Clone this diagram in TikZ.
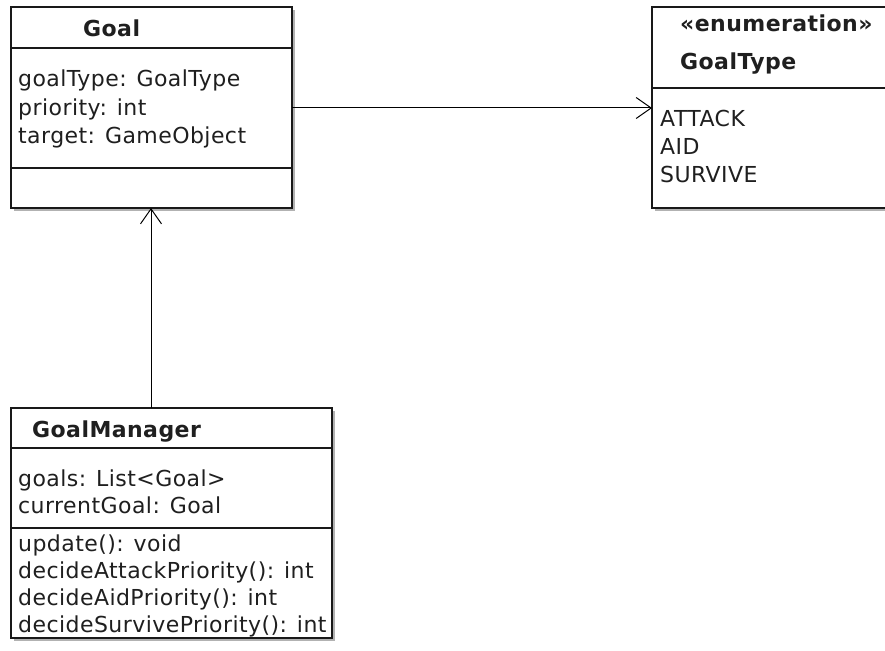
\documentclass[tikz,border=0pt]{standalone}
\usepackage{fontspec}
\setmainfont{DejaVu Sans}[LetterSpace=2]
\usetikzlibrary{arrows.meta, calc, shadows}

\begin{document}
\begin{tikzpicture}[x=1pt, y=-1pt,% styles used in image code
          > = {Straight Barb[length=15pt, width=21pt]},
umlclass/.style = {draw=black!90, line width=1.4pt, fill=white,
                   anchor=north west, inner sep=0pt, outer sep=0pt,
                   drop shadow={shadow xshift=3pt, shadow yshift=-3pt,
                                fill=black!30, opacity=1}},
   title/.style = {anchor=base west, inner sep=0pt,
                   font=\fontsize{22}{24}\selectfont\bfseries},
   entry/.style = {anchor=base west, inner sep=0pt},
  every node/.style = {text=black!88, font=\fontsize{22}{24}\selectfont}
                    ]
	\useasboundingbox (0,0) rectangle (885,650);

	% class frames
	\node[umlclass, minimum width=281pt, minimum height=201pt] (goal) at (11,7) {};
	\node[umlclass, minimum width=240pt, minimum height=201pt] (goaltype) at (652,7) {};
	\node[umlclass, minimum width=321pt, minimum height=230pt] (manager) at (11,408) {};

	% compartment separators
	\coordinate (goal attr)    at (0,48);
	\coordinate (goal ops)     at (0,168);
	\coordinate (enum attr)    at (0,88);
	\coordinate (manager attr) at (0,448);
	\coordinate (manager ops)  at (0,528);
	\draw[line width=1.4pt, black!90] (goal.west |- goal attr) -- (goal.east |- goal attr);
	\draw[line width=1.4pt, black!90] (goal.west |- goal ops) -- (goal.east |- goal ops);
	\draw[line width=1.4pt, black!90] (goaltype.west |- enum attr) -- (goaltype.east |- enum attr);
	\draw[line width=1.4pt, black!90] (manager.west |- manager attr) -- (manager.east |- manager attr);
	\draw[line width=1.4pt, black!90] (manager.west |- manager ops) -- (manager.east |- manager ops);

	% Goal
	\node[title] (goal name) at (83,37) {Goal};
	\node[entry] (goal a1) at (18,87)  {goalType: GoalType};
	\node[entry] (goal a2) at (18,115) {priority: int};
	\node[entry] (goal a3) at (18,143) {target: GameObject};

	% GoalType
	\node[title] (enum stereo) at (680,32) {«enumeration»};
	\node[title] (enum name)   at (680,70) {GoalType};
	\node[entry] (enum l1) at (660,126) {ATTACK};
	\node[entry] (enum l2) at (660,154) {AID};
	\node[entry] (enum l3) at (660,182) {SURVIVE};

	% GoalManager
	\node[title] (manager name) at (32,437) {GoalManager};
	\node[entry] (manager a1) at (18,486) {goals: List<Goal>};
	\node[entry] (manager a2) at (18,513) {currentGoal: Goal};
	\node[entry] (manager o1) at (18,551) {update(): void};
	\node[entry] (manager o2) at (18,578) {decideAttackPriority(): int};
	\node[entry] (manager o3) at (18,605) {decideAidPriority(): int};
	\node[entry] (manager o4) at (18,632) {decideSurvivePriority(): int};

	% associations
	\coordinate (assoc y) at (0,108);
	\coordinate (assoc x) at (151,0);
	\draw[->, line width=1pt] (goal.east |- assoc y) -- (goaltype.west |- assoc y);
	\draw[->, line width=1pt] (manager.north -| assoc x) -- (goal.south -| assoc x);
\end{tikzpicture}
\end{document}
